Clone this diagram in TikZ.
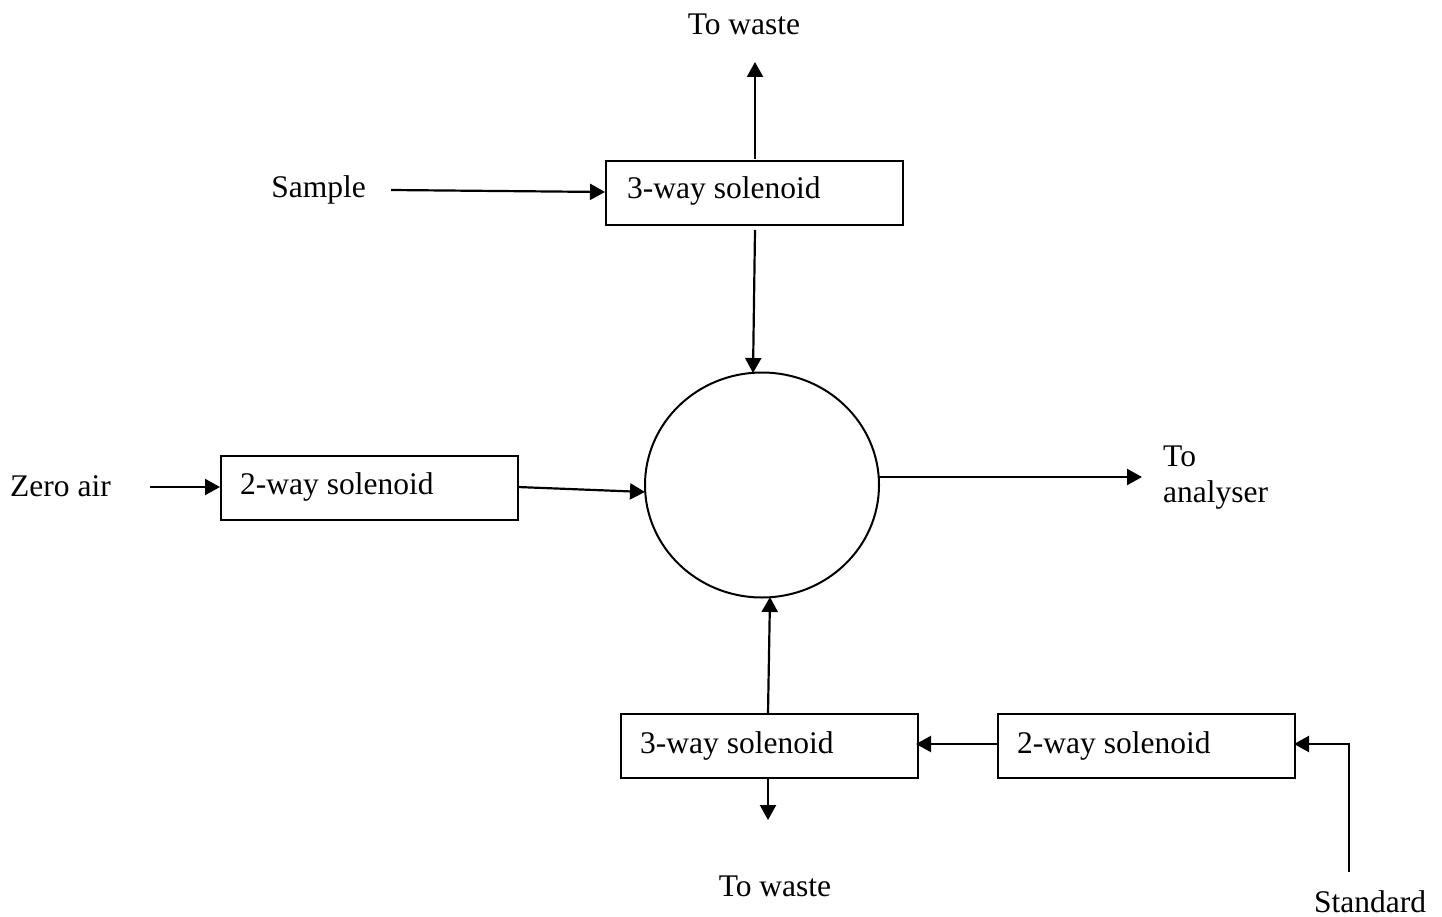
\documentclass[tikz,border=0pt]{standalone}
\usepackage{fontspec}
\setmainfont{Liberation Serif}
\usetikzlibrary{arrows.meta,shapes.geometric}
\begin{document}
\begin{tikzpicture}[x=1pt,y=-1pt,
  every node/.style={font=\fontsize{31.5}{36}\selectfont, inner sep=0pt},
  valvebox/.style={draw, line width=2pt, minimum width=297pt, minimum height=64pt, anchor=north west},
  flow/.style={line width=2.2pt, -{Triangle[length=15pt,width=16pt]}},
  lbl/.style={anchor=base west}]
\useasboundingbox (0,0) rectangle (1442,917);
% boxes
\node[valvebox] (v3top) at (605,160) {};
\node[lbl] at (627,199) {3-way solenoid};
\node[valvebox] (v2left) at (220,455) {};
\node[lbl] at (240,494) {2-way solenoid};
\node[valvebox] (v3bot) at (620,713) {};
\node[lbl] at (640,753) {3-way solenoid};
\node[valvebox] (v2right) at (997,713) {};
\node[lbl] at (1017,753) {2-way solenoid};
% mixing chamber
\node[draw, line width=2pt, ellipse, minimum width=234pt, minimum height=225pt] (mix) at (762,485) {};
% labels
\node (wtop) at (744,24) {To waste};
\node[anchor=base east] (sample) at (366,198) {Sample};
\node[anchor=base west] (zero) at (10,496) {Zero air};
\node[anchor=base west] (an1) at (1163,466) {To};
\node[anchor=base west] (an2) at (1163,502) {analyser};
\node (wbot) at (775,886) {To waste};
\node[anchor=base] (std) at (1370,912) {Standard};
% coordinates
\coordinate (a1) at (755,159);
\coordinate (a2) at (755,62);
\coordinate (b1) at (755,230);
\coordinate (b2) at (753,373);
\coordinate (s1) at (391,190);
\coordinate (s2) at (605,192);
\coordinate (z1) at (150,487);
\coordinate (z2) at (220,487);
\coordinate (l1) at (518,487);
\coordinate (l2) at (645,492);
\coordinate (r1) at (879,477);
\coordinate (r2) at (1142,477);
\coordinate (u1) at (768,713);
\coordinate (u2) at (770,597);
\coordinate (d1) at (768,778);
\coordinate (d2) at (768,820);
\coordinate (m1) at (997,744);
\coordinate (m2) at (916,744);
\coordinate (t1) at (1349,872);
\coordinate (t2) at (1349,744);
\coordinate (t3) at (1294,744);
\draw[flow] (a1) -- (a2);
\draw[flow] (b1) -- (b2);
\draw[flow] (s1) -- (s2);
\draw[flow] (z1) -- (z2);
\draw[flow] (l1) -- (l2);
\draw[flow] (r1) -- (r2);
\draw[flow] (u1) -- (u2);
\draw[flow] (d1) -- (d2);
\draw[flow] (m1) -- (m2);
\draw[flow] (t1) -- (t2) -- (t3);
\end{tikzpicture}
\end{document}
